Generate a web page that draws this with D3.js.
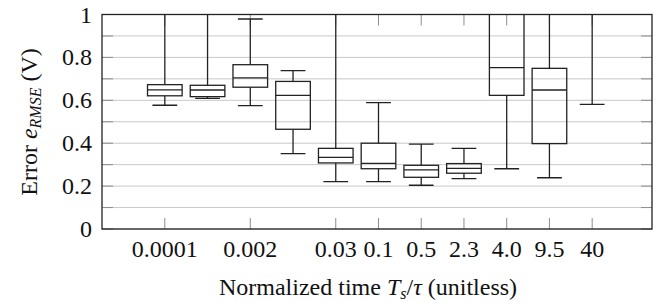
<!DOCTYPE html>
<html>
<head>
<meta charset="utf-8">
<style>
  body { margin: 0; background: #fff; }
</style>
</head>
<body>
<svg id="plot" width="667" height="302"></svg>
<script src="https://cdn.jsdelivr.net/npm/d3@7"></script>
<script>
// box statistics, one entry per box (positions 1..11)
let positions = [1, 2, 3, 4, 5, 6, 7, 8, 9, 10, 11]
let lowWhisker = [0.577, 0.609, 0.575, 0.351, 0.221, 0.221, 0.204, 0.235, 0.281, 0.239, 0.581]
let lowQuart = [0.621, 0.617, 0.661, 0.465, 0.308, 0.281, 0.241, 0.260, 0.623, 0.398, 1.10]
let medians = [0.649, 0.648, 0.705, 0.623, 0.334, 0.306, 0.276, 0.283, 0.752, 0.648, 1.20]
let upQuart = [0.673, 0.670, 0.766, 0.688, 0.376, 0.400, 0.297, 0.305, 1.05, 0.749, 1.30]
let upWhisker = [1.10, 1.10, 0.979, 0.738, 1.10, 0.589, 0.396, 0.376, 1.20, 1.10, 1.40]

let xTickPos = [1, 3, 5, 6, 7, 8, 9, 10, 11]
let xTickLabels = ["0.0001", "0.002", "0.03", "0.1", "0.5", "2.3", "4.0", "9.5", "40"]
let yTicks = [0, 0.2, 0.4, 0.6, 0.8, 1]
let yGrid = [0, 0.1, 0.2, 0.3, 0.4, 0.5, 0.6, 0.7, 0.8, 0.9, 1]

const pLeft = 102, pRight = 652, pTop = 14.5, pBottom = 229
const font = 'Liberation Serif'

let svg = d3.select('#plot')

let x = d3.scaleLinear().domain([-0.47, 12.4]).range([pLeft, pRight])
let y = d3.scaleLinear().domain([0, 1]).range([pBottom, pTop])
let step = x(2) - x(1)
let boxW = step * 0.81
let capW = step * 0.58

svg.append('clipPath').attr('id', 'plotclip')
    .append('rect')
    .attr('x', pLeft).attr('y', pTop)
    .attr('width', pRight - pLeft).attr('height', pBottom - pTop)

// grid lines
svg.append('g')
    .selectAll('line')
    .data(yGrid)
    .join('line')
    .attr('x1', pLeft).attr('x2', pRight)
    .attr('y1', d => y(d)).attr('y2', d => y(d))
    .attr('stroke', '#c9c9c9')
    .attr('stroke-width', 1)

// tick marks: bottom/top for x, left/right for y
let ticks = svg.append('g').attr('stroke', '#8c8c8c').attr('stroke-width', 1)
ticks.selectAll('.xb').data(xTickPos).join('line').attr('class', 'xb')
    .attr('x1', d => x(d)).attr('x2', d => x(d))
    .attr('y1', pBottom).attr('y2', pBottom - 11)
ticks.selectAll('.xt').data(xTickPos).join('line').attr('class', 'xt')
    .attr('x1', d => x(d)).attr('x2', d => x(d))
    .attr('y1', pTop).attr('y2', pTop + 11)
ticks.selectAll('.yr').data(yGrid).join('line').attr('class', 'yr')
    .attr('x1', pRight).attr('x2', pRight - 11)
    .attr('y1', d => y(d)).attr('y2', d => y(d))
ticks.selectAll('.yl').data(yGrid).join('line').attr('class', 'yl')
    .attr('x1', pLeft).attr('x2', pLeft + 11)
    .attr('y1', d => y(d)).attr('y2', d => y(d))

// boxes
let boxes = svg.append('g')
    .attr('clip-path', 'url(#plotclip)')
    .attr('stroke', '#222')
    .attr('stroke-width', 1.3)
    .attr('fill', 'none')

positions.forEach((p, i) => {
    let cx = x(p)
    let g = boxes.append('g')
    // whiskers
    g.append('line')
        .attr('x1', cx).attr('x2', cx)
        .attr('y1', y(upQuart[i])).attr('y2', y(upWhisker[i]))
    g.append('line')
        .attr('x1', cx).attr('x2', cx)
        .attr('y1', y(lowQuart[i])).attr('y2', y(lowWhisker[i]))
    g.append('line')
        .attr('x1', cx - capW / 2).attr('x2', cx + capW / 2)
        .attr('y1', y(upWhisker[i])).attr('y2', y(upWhisker[i]))
    g.append('line')
        .attr('x1', cx - capW / 2).attr('x2', cx + capW / 2)
        .attr('y1', y(lowWhisker[i])).attr('y2', y(lowWhisker[i]))
    // box and median
    g.append('rect')
        .attr('x', cx - boxW / 2)
        .attr('y', y(upQuart[i]))
        .attr('width', boxW)
        .attr('height', y(lowQuart[i]) - y(upQuart[i]))
        .attr('fill', 'none')
    g.append('line')
        .attr('x1', cx - boxW / 2).attr('x2', cx + boxW / 2)
        .attr('y1', y(medians[i])).attr('y2', y(medians[i]))
})

// frame
svg.append('rect')
    .attr('x', pLeft).attr('y', pTop)
    .attr('width', pRight - pLeft).attr('height', pBottom - pTop)
    .attr('fill', 'none')
    .attr('stroke', '#222')
    .attr('stroke-width', 1.3)

// tick labels
svg.append('g')
    .selectAll('text')
    .data(yTicks)
    .join('text')
    .attr('x', 92)
    .attr('y', d => y(d) + 8)
    .attr('text-anchor', 'end')
    .attr('font-size', 24)
    .attr('fill', '#111')
    .text(d => d === 0 || d === 1 ? d : d.toFixed(1))

svg.append('g')
    .selectAll('text')
    .data(xTickPos)
    .join('text')
    .attr('x', d => x(d))
    .attr('y', 257)
    .attr('text-anchor', 'middle')
    .attr('font-size', 24)
    .attr('fill', '#111')
    .text((d, i) => xTickLabels[i])

// axis titles
let xt = svg.append('text')
    .attr('x', 368)
    .attr('y', 295)
    .attr('text-anchor', 'middle')
    .attr('font-size', 24)
    .attr('fill', '#111')
xt.append('tspan').text('Normalized time ')
xt.append('tspan').attr('font-style', 'italic').text('T')
xt.append('tspan').attr('font-style', 'italic').attr('font-size', 16).attr('dy', 4).text('s')
xt.append('tspan').attr('dy', -4).text('/')
xt.append('tspan').attr('font-style', 'italic').text('τ')
xt.append('tspan').text(' (unitless)')

let yt = svg.append('text')
    .attr('transform', 'translate(37,122) rotate(-90)')
    .attr('text-anchor', 'middle')
    .attr('font-size', 24)
    .attr('fill', '#111')
yt.append('tspan').text('Error ')
yt.append('tspan').attr('font-style', 'italic').text('e')
yt.append('tspan').attr('font-style', 'italic').attr('font-size', 16).attr('dy', 4).text('RMSE')
yt.append('tspan').attr('dy', -4).text(' (V)')

// set the serif face on every text now, and again once the font is loaded
function applyFont() {
    svg.selectAll('text').attr('font-family', font).style('font-family', "'Liberation Serif', serif")
}
applyFont()
if (document.fonts && document.fonts.load) {
    Promise.all([
        document.fonts.load("24px 'Liberation Serif'"),
        document.fonts.load("italic 24px 'Liberation Serif'")
    ]).then(applyFont)
}
</script>
</body>
</html>
